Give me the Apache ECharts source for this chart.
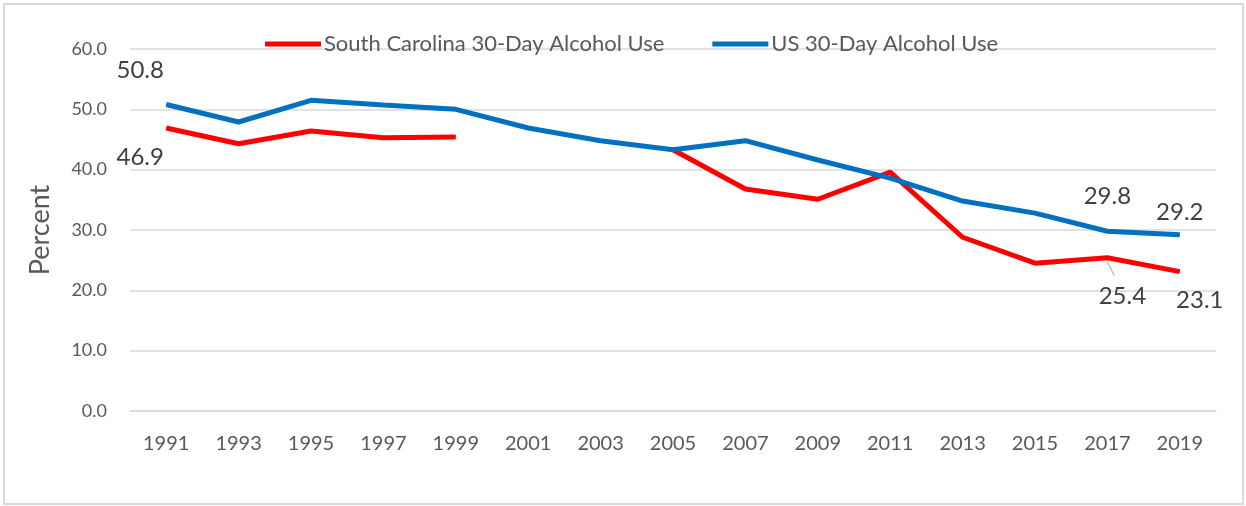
<html>
<head>
    <meta charset="utf-8">
    <title>30-Day Alcohol Use</title>
    <script src="https://cdn.jsdelivr.net/npm/echarts@6/dist/echarts.min.js"></script>
    <style>
        body { margin: 0; background: white; }
        #frame {
            position: absolute; left: 3px; top: 3px;
            width: 1237px; height: 498px;
            border: 2px solid #d9d9d9;
        }
        #main { width: 1246px; height: 506px; position: absolute; left: 0; top: 0; }
    </style>
</head>
<body>
    <div id='frame'></div>
    <div id='main'></div>
    <script>
        // data
        var YEARS = ['1991', '1993', '1995', '1997', '1999', '2001', '2003', '2005',
            '2007', '2009', '2011', '2013', '2015', '2017', '2019']
        var SC_USE = [46.9, 44.3, 46.4, 45.3, 45.4, null, null, 43.3,
            36.8, 35.1, 39.6, 28.8, 24.5, 25.4, 23.1]
        var US_USE = [50.8, 47.9, 51.5, 50.7, 50.0, 46.9, 44.8, 43.3,
            44.8, 41.6, 38.6, 34.8, 32.8, 29.8, 29.2]
        var Y_TICKS = [0, 10, 20, 30, 40, 50, 60]

        // which points get a value label, and where it sits
        var SC_LABELS = { 0: [-26, 29], 13: [15, 39], 14: [20, 29] }
        var US_LABELS = { 0: [-26, -34], 13: [0, -35], 14: [0, -23] }
        var FONT = 'Lato, "Liberation Sans", sans-serif'

        function LabeledData(values, labels) {
            return values.map((v, i) => {
                if (!(i in labels)) return v
                return { value: v, label: { show: true } }
            })
        }
        function MakeLayout(labels) {
            return params => {
                var off = labels[params.dataIndex]
                if (!off) return {}
                return { dx: off[0], dy: off[1] }
            }
        }

        var chart = echarts.init(document.getElementById('main'))
        var labelStyle = {
            show: false,
            position: 'inside',
            fontSize: 24,
            color: '#404040',
            fontFamily: FONT,
            formatter: p => p.value.toFixed(1),
        }
        chart.setOption({
            backgroundColor: 'transparent',
            animation: false,
            textStyle: { fontFamily: FONT },
            grid: { left: 130, right: 30, top: 49, bottom: 95 },
            legend: {
                top: 33,
                left: 265,
                padding: 0,
                itemWidth: 56,
                itemHeight: 5,
                itemGap: 48,
                icon: 'rect',
                textStyle: { fontSize: 22, color: '#595959', fontFamily: FONT, padding: [0, 0, 0, -2] },
                data: ['South Carolina 30-Day Alcohol Use', 'US 30-Day Alcohol Use'],
            },
            xAxis: {
                type: 'category',
                data: YEARS,
                boundaryGap: true,
                axisLine: { lineStyle: { color: '#d9d9d9', width: 1.5 } },
                axisTick: { show: false },
                axisLabel: { fontSize: 20, color: '#595959', margin: 23, fontFamily: FONT },
            },
            yAxis: {
                type: 'value',
                min: Y_TICKS[0],
                max: Y_TICKS[Y_TICKS.length - 1],
                interval: 10,
                name: 'Percent',
                nameLocation: 'middle',
                nameGap: 76,
                nameTextStyle: { fontSize: 27, color: '#595959', fontFamily: FONT },
                axisLine: { show: false },
                axisTick: { show: false },
                splitLine: { lineStyle: { color: '#d9d9d9', width: 1.5 } },
                axisLabel: {
                    fontSize: 18, color: '#595959', margin: 23, fontFamily: FONT,
                    formatter: v => v.toFixed(1),
                },
            },
            series: [
                {
                    name: 'US 30-Day Alcohol Use',
                    type: 'line',
                    data: LabeledData(US_USE, US_LABELS),
                    color: '#0070c0',
                    lineStyle: { width: 5, color: '#0070c0' },
                    symbol: 'circle',
                    symbolSize: 1,
                    showSymbol: true,
                    label: labelStyle,
                    labelLayout: MakeLayout(US_LABELS),
                    z: 2,
                },
                {
                    name: 'South Carolina 30-Day Alcohol Use',
                    type: 'line',
                    data: LabeledData(SC_USE, SC_LABELS),
                    color: '#ff0000',
                    connectNulls: false,
                    lineStyle: { width: 5, color: '#ff0000' },
                    symbol: 'circle',
                    symbolSize: 1,
                    showSymbol: true,
                    label: labelStyle,
                    labelLayout: MakeLayout(SC_LABELS),
                    z: 1,
                },
            ],
        })

        // small leader line from the 2017 SC point to its label
        var p = chart.convertToPixel({ seriesIndex: 1 }, [13, SC_USE[13]])
        chart.setOption({
            graphic: [{
                type: 'line',
                shape: { x1: p[0], y1: p[1] + 4, x2: p[0] + 7, y2: p[1] + 18 },
                style: { stroke: '#a6a6a6', lineWidth: 1 },
                z: 10,
            }],
        })
    </script>
</body>
</html>
